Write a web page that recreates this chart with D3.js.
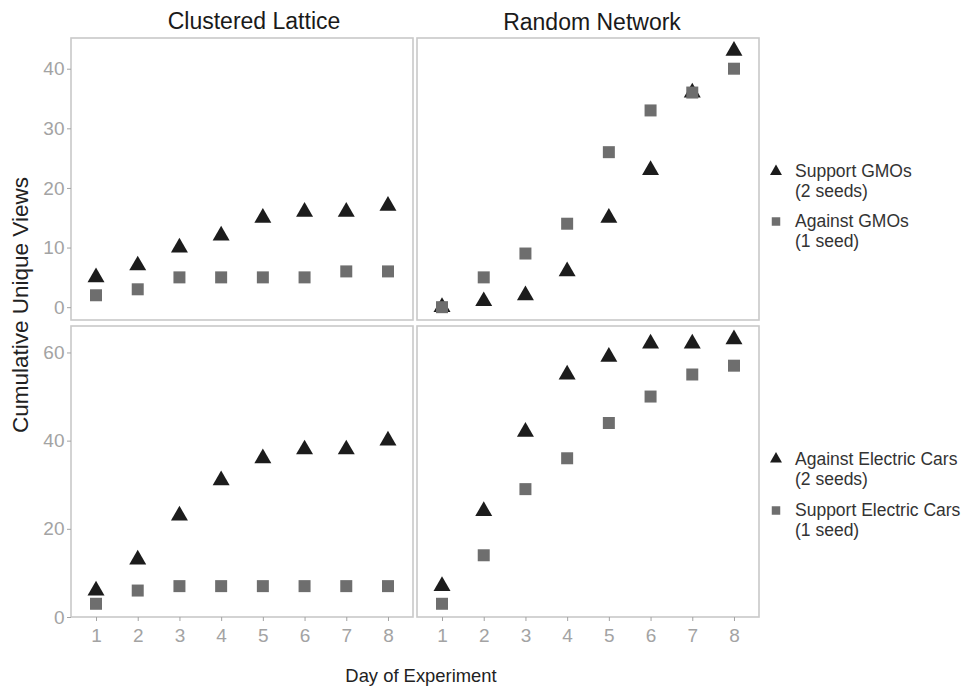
<!DOCTYPE html>
<html>
<head>
<meta charset="utf-8">
<script src="https://cdn.jsdelivr.net/npm/d3@7"></script>
<style>
  html, body { margin: 0; padding: 0; background: #fff; }
  svg { display: block; font-family: "Liberation Sans", Arial, sans-serif; }
</style>
</head>
<body>
<svg id="chart" width="972" height="688"></svg>
<script>
// ---- data ----
const days = [1, 2, 3, 4, 5, 6, 7, 8];
const networks = ["Clustered Lattice", "Random Network"];

// Topic 1: GMOs
const latticeSupportGMOs = [5, 7, 10, 12, 15, 16, 16, 17];
const latticeAgainstGMOs = [2, 3, 5, 5, 5, 5, 6, 6];
const randomSupportGMOs  = [0, 1, 2, 6, 15, 23, 36, 43];
const randomAgainstGMOs  = [0, 5, 9, 14, 26, 33, 36, 40];

// Topic 2: Electric cars
const latticeAgainstCars = [6, 13, 23, 31, 36, 38, 38, 40];
const latticeSupportCars = [3, 6, 7, 7, 7, 7, 7, 7];
const randomAgainstCars  = [7, 24, 42, 55, 59, 62, 62, 63];
const randomSupportCars  = [3, 14, 29, 36, 44, 50, 55, 57];

const topTicks = [0, 10, 20, 30, 40];
const bottomTicks = [0, 20, 40, 60];

const topLegend = [["Support GMOs", "(2 seeds)"], ["Against GMOs", "(1 seed)"]];
const bottomLegend = [["Against Electric Cars", "(2 seeds)"], ["Support Electric Cars", "(1 seed)"]];

const yLabel = "Cumulative Unique Views";
const xLabel = "Day of Experiment";

// ---- layout ----
const svg = d3.select("#chart");
const cols = [{x0: 71, x1: 413, titleX: 254, titleY: 28.5}, {x0: 417, x1: 759, titleX: 592, titleY: 29.5}];
const rows = [
  {y0: 38, y1: 320, domain: [-2.15, 45.15], ticks: topTicks,
   series: [[latticeSupportGMOs, latticeAgainstGMOs], [randomSupportGMOs, randomAgainstGMOs]],
   legend: topLegend, legendY: 171.5, legendGap: 50},
  {y0: 326, y1: 617, domain: [0, 66], ticks: bottomTicks,
   series: [[latticeAgainstCars, latticeSupportCars], [randomAgainstCars, randomSupportCars]],
   legend: bottomLegend, legendY: 459, legendGap: 51.5}
];

const triColor = "#1c1c1c";
const sqColor = "#6e6e6e";
const borderColor = "#c9c9c9";
const tickColor = "#a3a3a3";
const fontFam = "Liberation Sans, Arial, sans-serif";

const tri = d3.symbol().type(d3.symbolTriangle).size(125);
const sq = d3.symbol().type(d3.symbolSquare).size(144);
const triLeg = d3.symbol().type(d3.symbolTriangle).size(62);
const sqLeg = d3.symbol().type(d3.symbolSquare).size(72);

rows.forEach((row, ri) => {
  const y = d3.scaleLinear().domain(row.domain).range([row.y1, row.y0]);
  cols.forEach((col, ci) => {
    const x = d3.scaleLinear().domain([0.4, 8.6]).range([col.x0, col.x1]);
    const g = svg.append("g");

    // panel background and border
    g.append("rect")
      .attr("x", col.x0).attr("y", row.y0)
      .attr("width", col.x1 - col.x0).attr("height", row.y1 - row.y0)
      .attr("fill", "#fff").attr("stroke", borderColor).attr("stroke-width", 1.6);

    // y axis on left column
    if (ci === 0) {
      const ya = svg.append("g")
        .attr("transform", `translate(${col.x0},0)`)
        .call(d3.axisLeft(y).tickValues(row.ticks).tickSize(4).tickPadding(2.5).tickFormat(d3.format("d")));
      ya.select(".domain").remove();
      ya.selectAll(".tick line").attr("stroke", tickColor);
      ya.selectAll(".tick text").attr("fill", tickColor)
        .style("font-size", "19px").style("font-family", fontFam);
    }

    // x axis on bottom row
    if (ri === 1) {
      const xa = svg.append("g")
        .attr("transform", `translate(0,${row.y1})`)
        .call(d3.axisBottom(x).tickValues(days).tickSize(4).tickPadding(8).tickFormat(d3.format("d")));
      xa.select(".domain").remove();
      xa.selectAll(".tick line").attr("stroke", tickColor);
      xa.selectAll(".tick text").attr("fill", tickColor)
        .style("font-size", "19px").style("font-family", fontFam);
    }

    // strip titles on top row
    if (ri === 0) {
      svg.append("text")
        .attr("x", col.titleX).attr("y", col.titleY)
        .attr("text-anchor", "middle")
        .attr("fill", "#1a1a1a")
        .style("font-size", "23px")
        .text(networks[ci]);
    }

    const [triVals, sqVals] = row.series[ci];
    g.selectAll("path.tri").data(days).join("path")
      .attr("class", "tri")
      .attr("d", tri)
      .attr("transform", (d, i) => `translate(${x(d)},${y(triVals[i])})`)
      .attr("fill", triColor);
    g.selectAll("path.sq").data(days).join("path")
      .attr("class", "sq")
      .attr("d", sq)
      .attr("transform", (d, i) => `translate(${x(d)},${y(sqVals[i])})`)
      .attr("fill", sqColor);
  });

  // legend
  const lg = svg.append("g");
  row.legend.forEach((lines, li) => {
    const cy = row.legendY + li * row.legendGap;
    lg.append("path")
      .attr("d", li === 0 ? triLeg : sqLeg)
      .attr("transform", `translate(776,${cy})`)
      .attr("fill", li === 0 ? triColor : sqColor);
    lines.forEach((t, k) => {
      lg.append("text")
        .attr("x", 795).attr("y", cy + 5.5 + k * 20)
        .attr("fill", "#333")
        .style("font-size", "17.5px")
        .text(t);
    });
  });
});

// axis titles
svg.append("text")
  .attr("transform", "translate(28,305) rotate(-90)")
  .attr("text-anchor", "middle")
  .attr("fill", "#222")
  .style("font-size", "22.5px")
  .text(yLabel);

svg.append("text")
  .attr("x", 421).attr("y", 681.5)
  .attr("text-anchor", "middle")
  .attr("fill", "#222")
  .style("font-size", "18.4px")
  .text(xLabel);
</script>
</body>
</html>
